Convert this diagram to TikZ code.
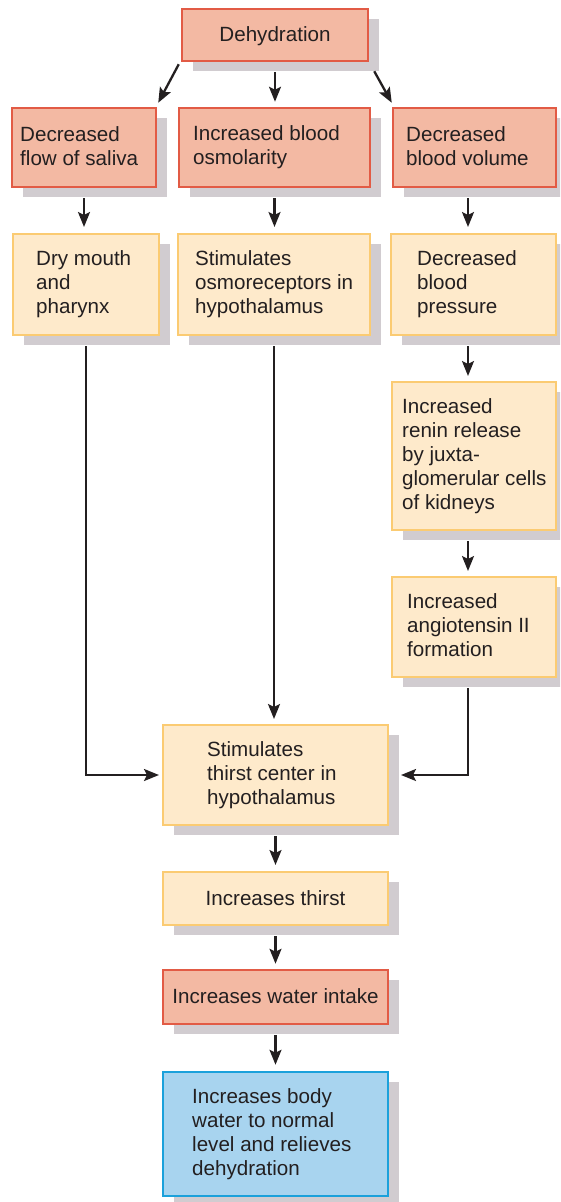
\documentclass[tikz,border=0pt]{standalone}
\usepackage{fontspec}
\setmainfont{Liberation Sans}
\usetikzlibrary{shadows,arrows.meta}
\definecolor{salfill}{HTML}{F3B9A3}
\definecolor{saldraw}{HTML}{E25B45}
\definecolor{yelfill}{HTML}{FEEACB}
\definecolor{yeldraw}{HTML}{FBCB72}
\definecolor{blufill}{HTML}{A8D4EF}
\definecolor{bludraw}{HTML}{1BA1DB}
\definecolor{shadowc}{HTML}{D1CCD0}
\definecolor{txt}{HTML}{231F20}
\newcommand{\mystrut}{\rule[-3.5pt]{0pt}{20pt}}
\tikzset{
  every node/.style={font=\fontsize{20.6}{24}\selectfont, text=txt},
  boxbase/.style={rectangle, inner sep=0pt,
    drop shadow={shadow xshift=11pt, shadow yshift=-10pt, fill=shadowc, opacity=1, draw=none}},
  salbox/.style={boxbase, fill=salfill, draw=saldraw, line width=2.5pt},
  yelbox/.style={boxbase, fill=yelfill, draw=yeldraw, line width=2pt},
  blubox/.style={boxbase, fill=blufill, draw=bludraw, line width=2.5pt},
  boxtext/.style={execute at begin node=\mystrut, execute at end node=\mystrut},
  lbl/.style={anchor=west, align=left, inner sep=0pt, boxtext},
  arr/.style={draw=txt, line width=2.3pt, -{Stealth[length=15pt,width=12pt,inset=3pt]}}
}
\begin{document}
\begin{tikzpicture}[x=1pt,y=-1pt]
\useasboundingbox (0,0) rectangle (560,1202);
\clip (0,0) rectangle (560,1202);
% boxes
\node[salbox, boxtext, minimum width=186pt, minimum height=52pt] (dehy) at (275,35) {Dehydration};
\node[salbox, minimum width=144pt, minimum height=79pt] (flow) at (84,147.5) {};
\node[salbox, minimum width=191pt, minimum height=79pt] (osmo) at (274.5,147.5) {};
\node[salbox, minimum width=163pt, minimum height=79pt] (vol) at (474.5,147.5) {};
\node[yelbox, minimum width=146pt, minimum height=101pt] (dry) at (86,284.5) {};
\node[yelbox, minimum width=192pt, minimum height=101pt] (stimo) at (274,284.5) {};
\node[yelbox, minimum width=165pt, minimum height=101pt] (press) at (473.5,284.5) {};
\node[yelbox, minimum width=164pt, minimum height=148pt] (renin) at (474,456) {};
\node[yelbox, minimum width=164pt, minimum height=100pt] (ang) at (474,627) {};
\node[yelbox, minimum width=225pt, minimum height=100pt] (thirstc) at (275.5,775) {};
\node[yelbox, boxtext, minimum width=225pt, minimum height=53pt] (thirst) at (275.5,898.5) {Increases thirst};
\node[salbox, boxtext, minimum width=225pt, minimum height=54pt] (intake) at (275.5,997) {Increases water intake};
\node[blubox, minimum width=225pt, minimum height=124pt] (body) at (275.5,1134) {};
% texts
\node[lbl] (tflow) at (20,147.5) {Decreased\\flow of saliva};
\node[lbl] (tosmo) at (193,147.5) {Increased blood\\osmolarity};
\node[lbl] (tvol) at (406,147.5) {Decreased\\blood volume};
\node[lbl] (tdry) at (36,284.5) {Dry mouth\\and\\pharynx};
\node[lbl] (tstimo) at (195,284.5) {Stimulates\\osmoreceptors in\\hypothalamus};
\node[lbl] (tpress) at (417,284.5) {Decreased\\blood\\pressure};
\node[lbl] (trenin) at (402,456) {Increased\\renin release\\by juxta-\\glomerular cells\\of kidneys};
\node[lbl] (tang) at (407,627) {Increased\\angiotensin II\\formation};
\node[lbl] (tthirstc) at (207,775) {Stimulates\\thirst center in\\hypothalamus};
\node[lbl] (tbody) at (192,1134) {Increases body\\water to normal\\level and relieves\\dehydration};
% connectors
\coordinate (rx) at (468,0);
\draw[arr] ([xshift=-2pt,yshift=-2pt]dehy.south west) -- ([xshift=1pt,yshift=4pt]flow.north east);
\draw[arr, shorten <=10pt, shorten >=5pt] (dehy.south) -- (dehy.south |- osmo.north);
\draw[arr] ([xshift=5pt,yshift=-9pt]dehy.south east) -- ([yshift=4pt]vol.north west);
\draw[arr, shorten <=10pt, shorten >=6pt] (flow.south) -- (flow.south |- dry.north);
\draw[arr, shorten <=10pt, shorten >=6pt] (osmo.south) -- (osmo.south |- stimo.north);
\draw[arr, shorten <=10pt, shorten >=6pt] (rx |- vol.south) -- (rx |- press.north);
\draw[arr, shorten <=10pt, shorten >=5pt] (rx |- press.south) -- (rx |- renin.north);
\draw[arr, shorten <=10pt, shorten >=5pt] (rx |- renin.south) -- (rx |- ang.north);
\draw[arr, shorten <=10pt] (rx |- ang.south) |- ([xshift=12pt]thirstc.east);
\draw[arr, shorten <=10pt, shorten >=3pt] (dry.south) |- (thirstc.west);
\draw[arr, shorten <=10pt, shorten >=5pt] (stimo.south) -- (stimo.south |- thirstc.north);
\draw[arr, shorten <=10pt, shorten >=6pt] (thirstc.south) -- (thirst.north);
\draw[arr, shorten <=10pt, shorten >=5pt] (thirst.south) -- (intake.north);
\draw[arr, shorten <=10pt, shorten >=6pt] (intake.south) -- (body.north);
\end{tikzpicture}
\end{document}
